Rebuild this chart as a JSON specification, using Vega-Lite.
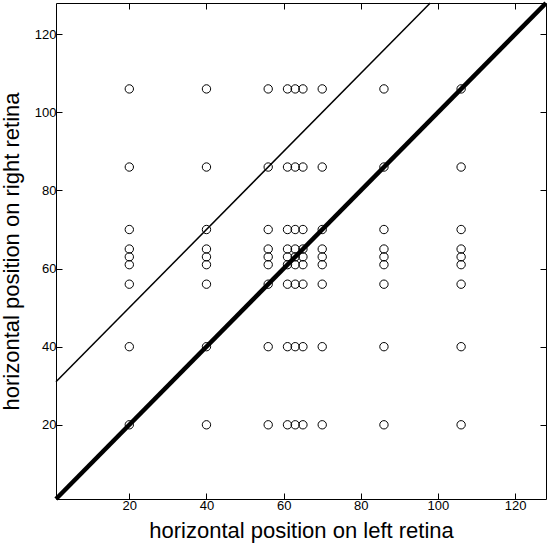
{
  "$schema": "https://vega.github.io/schema/vega-lite/v6.json",
  "width": 490,
  "height": 496,
  "autosize": {"type": "none"},
  "padding": {"left": 56, "top": 3, "right": 1, "bottom": 50},
  "config": {
    "view": {"stroke": null},
    "font": "Liberation Sans",
    "axis": {
      "domainColor": "black",
      "domainWidth": 1,
      "tickColor": "black",
      "tickSize": -6,
      "tickWidth": 1,
      "grid": false,
      "labelColor": "black",
      "labelFontSize": 13,
      "labelFont": "Liberation Sans",
      "titleFont": "Liberation Sans",
      "titleFontSize": 22,
      "titleFontWeight": "normal",
      "titleColor": "black"
    }
  },
  "datasets": {
    "pts": [
      {"x":20,"y":20},{"x":20,"y":40},{"x":20,"y":56},{"x":20,"y":61},{"x":20,"y":63},{"x":20,"y":65},{"x":20,"y":70},{"x":20,"y":86},{"x":20,"y":106},
      {"x":40,"y":20},{"x":40,"y":40},{"x":40,"y":56},{"x":40,"y":61},{"x":40,"y":63},{"x":40,"y":65},{"x":40,"y":70},{"x":40,"y":86},{"x":40,"y":106},
      {"x":56,"y":20},{"x":56,"y":40},{"x":56,"y":56},{"x":56,"y":61},{"x":56,"y":63},{"x":56,"y":65},{"x":56,"y":70},{"x":56,"y":86},{"x":56,"y":106},
      {"x":61,"y":20},{"x":61,"y":40},{"x":61,"y":56},{"x":61,"y":61},{"x":61,"y":63},{"x":61,"y":65},{"x":61,"y":70},{"x":61,"y":86},{"x":61,"y":106},
      {"x":63,"y":20},{"x":63,"y":40},{"x":63,"y":56},{"x":63,"y":61},{"x":63,"y":63},{"x":63,"y":65},{"x":63,"y":70},{"x":63,"y":86},{"x":63,"y":106},
      {"x":65,"y":20},{"x":65,"y":40},{"x":65,"y":56},{"x":65,"y":61},{"x":65,"y":63},{"x":65,"y":65},{"x":65,"y":70},{"x":65,"y":86},{"x":65,"y":106},
      {"x":70,"y":20},{"x":70,"y":40},{"x":70,"y":56},{"x":70,"y":61},{"x":70,"y":63},{"x":70,"y":65},{"x":70,"y":70},{"x":70,"y":86},{"x":70,"y":106},
      {"x":86,"y":20},{"x":86,"y":40},{"x":86,"y":56},{"x":86,"y":61},{"x":86,"y":63},{"x":86,"y":65},{"x":86,"y":70},{"x":86,"y":86},{"x":86,"y":106},
      {"x":106,"y":20},{"x":106,"y":40},{"x":106,"y":56},{"x":106,"y":61},{"x":106,"y":63},{"x":106,"y":65},{"x":106,"y":70},{"x":106,"y":86},{"x":106,"y":106}
    ],
    "lines": [
      {"line": "identity", "x": 1, "y": 1},
      {"line": "identity", "x": 128, "y": 128},
      {"line": "offset", "x": 1, "y": 31},
      {"line": "offset", "x": 98, "y": 128}
    ]
  },
  "resolve": {"axis": {"x": "independent", "y": "independent"}},
  "layer": [
    {
      "data": {"name": "pts"},
      "mark": {"type": "point", "shape": "circle", "filled": false, "size": 70, "strokeWidth": 1, "color": "black", "opacity": 1},
      "encoding": {
        "x": {"field": "x", "type": "quantitative",
              "scale": {"domain": [1, 128], "nice": false, "zero": false},
              "axis": {"orient": "bottom", "values": [20, 40, 60, 80, 100, 120], "title": "horizontal position on left retina", "labelPadding": 6, "titlePadding": 8}},
        "y": {"field": "y", "type": "quantitative",
              "scale": {"domain": [1, 128], "nice": false, "zero": false},
              "axis": {"orient": "left", "values": [20, 40, 60, 80, 100, 120], "title": "horizontal position on right retina", "labelPadding": 6, "titlePadding": 11}}
      }
    },
    {
      "data": {"name": "lines"},
      "transform": [{"filter": "datum.line == 'identity'"}],
      "mark": {"type": "line", "color": "black", "strokeWidth": 4.5},
      "encoding": {
        "x": {"field": "x", "type": "quantitative",
              "scale": {"domain": [1, 128], "nice": false, "zero": false},
              "axis": {"orient": "top", "values": [20, 40, 60, 80, 100, 120], "labels": false, "title": null}},
        "y": {"field": "y", "type": "quantitative",
              "scale": {"domain": [1, 128], "nice": false, "zero": false},
              "axis": {"orient": "right", "values": [20, 40, 60, 80, 100, 120], "labels": false, "title": null}}
      }
    },
    {
      "data": {"name": "lines"},
      "transform": [{"filter": "datum.line == 'offset'"}],
      "mark": {"type": "line", "color": "black", "strokeWidth": 1.5},
      "encoding": {
        "x": {"field": "x", "type": "quantitative", "scale": {"domain": [1, 128], "nice": false, "zero": false}, "axis": null},
        "y": {"field": "y", "type": "quantitative", "scale": {"domain": [1, 128], "nice": false, "zero": false}, "axis": null}
      }
    }
  ]
}
